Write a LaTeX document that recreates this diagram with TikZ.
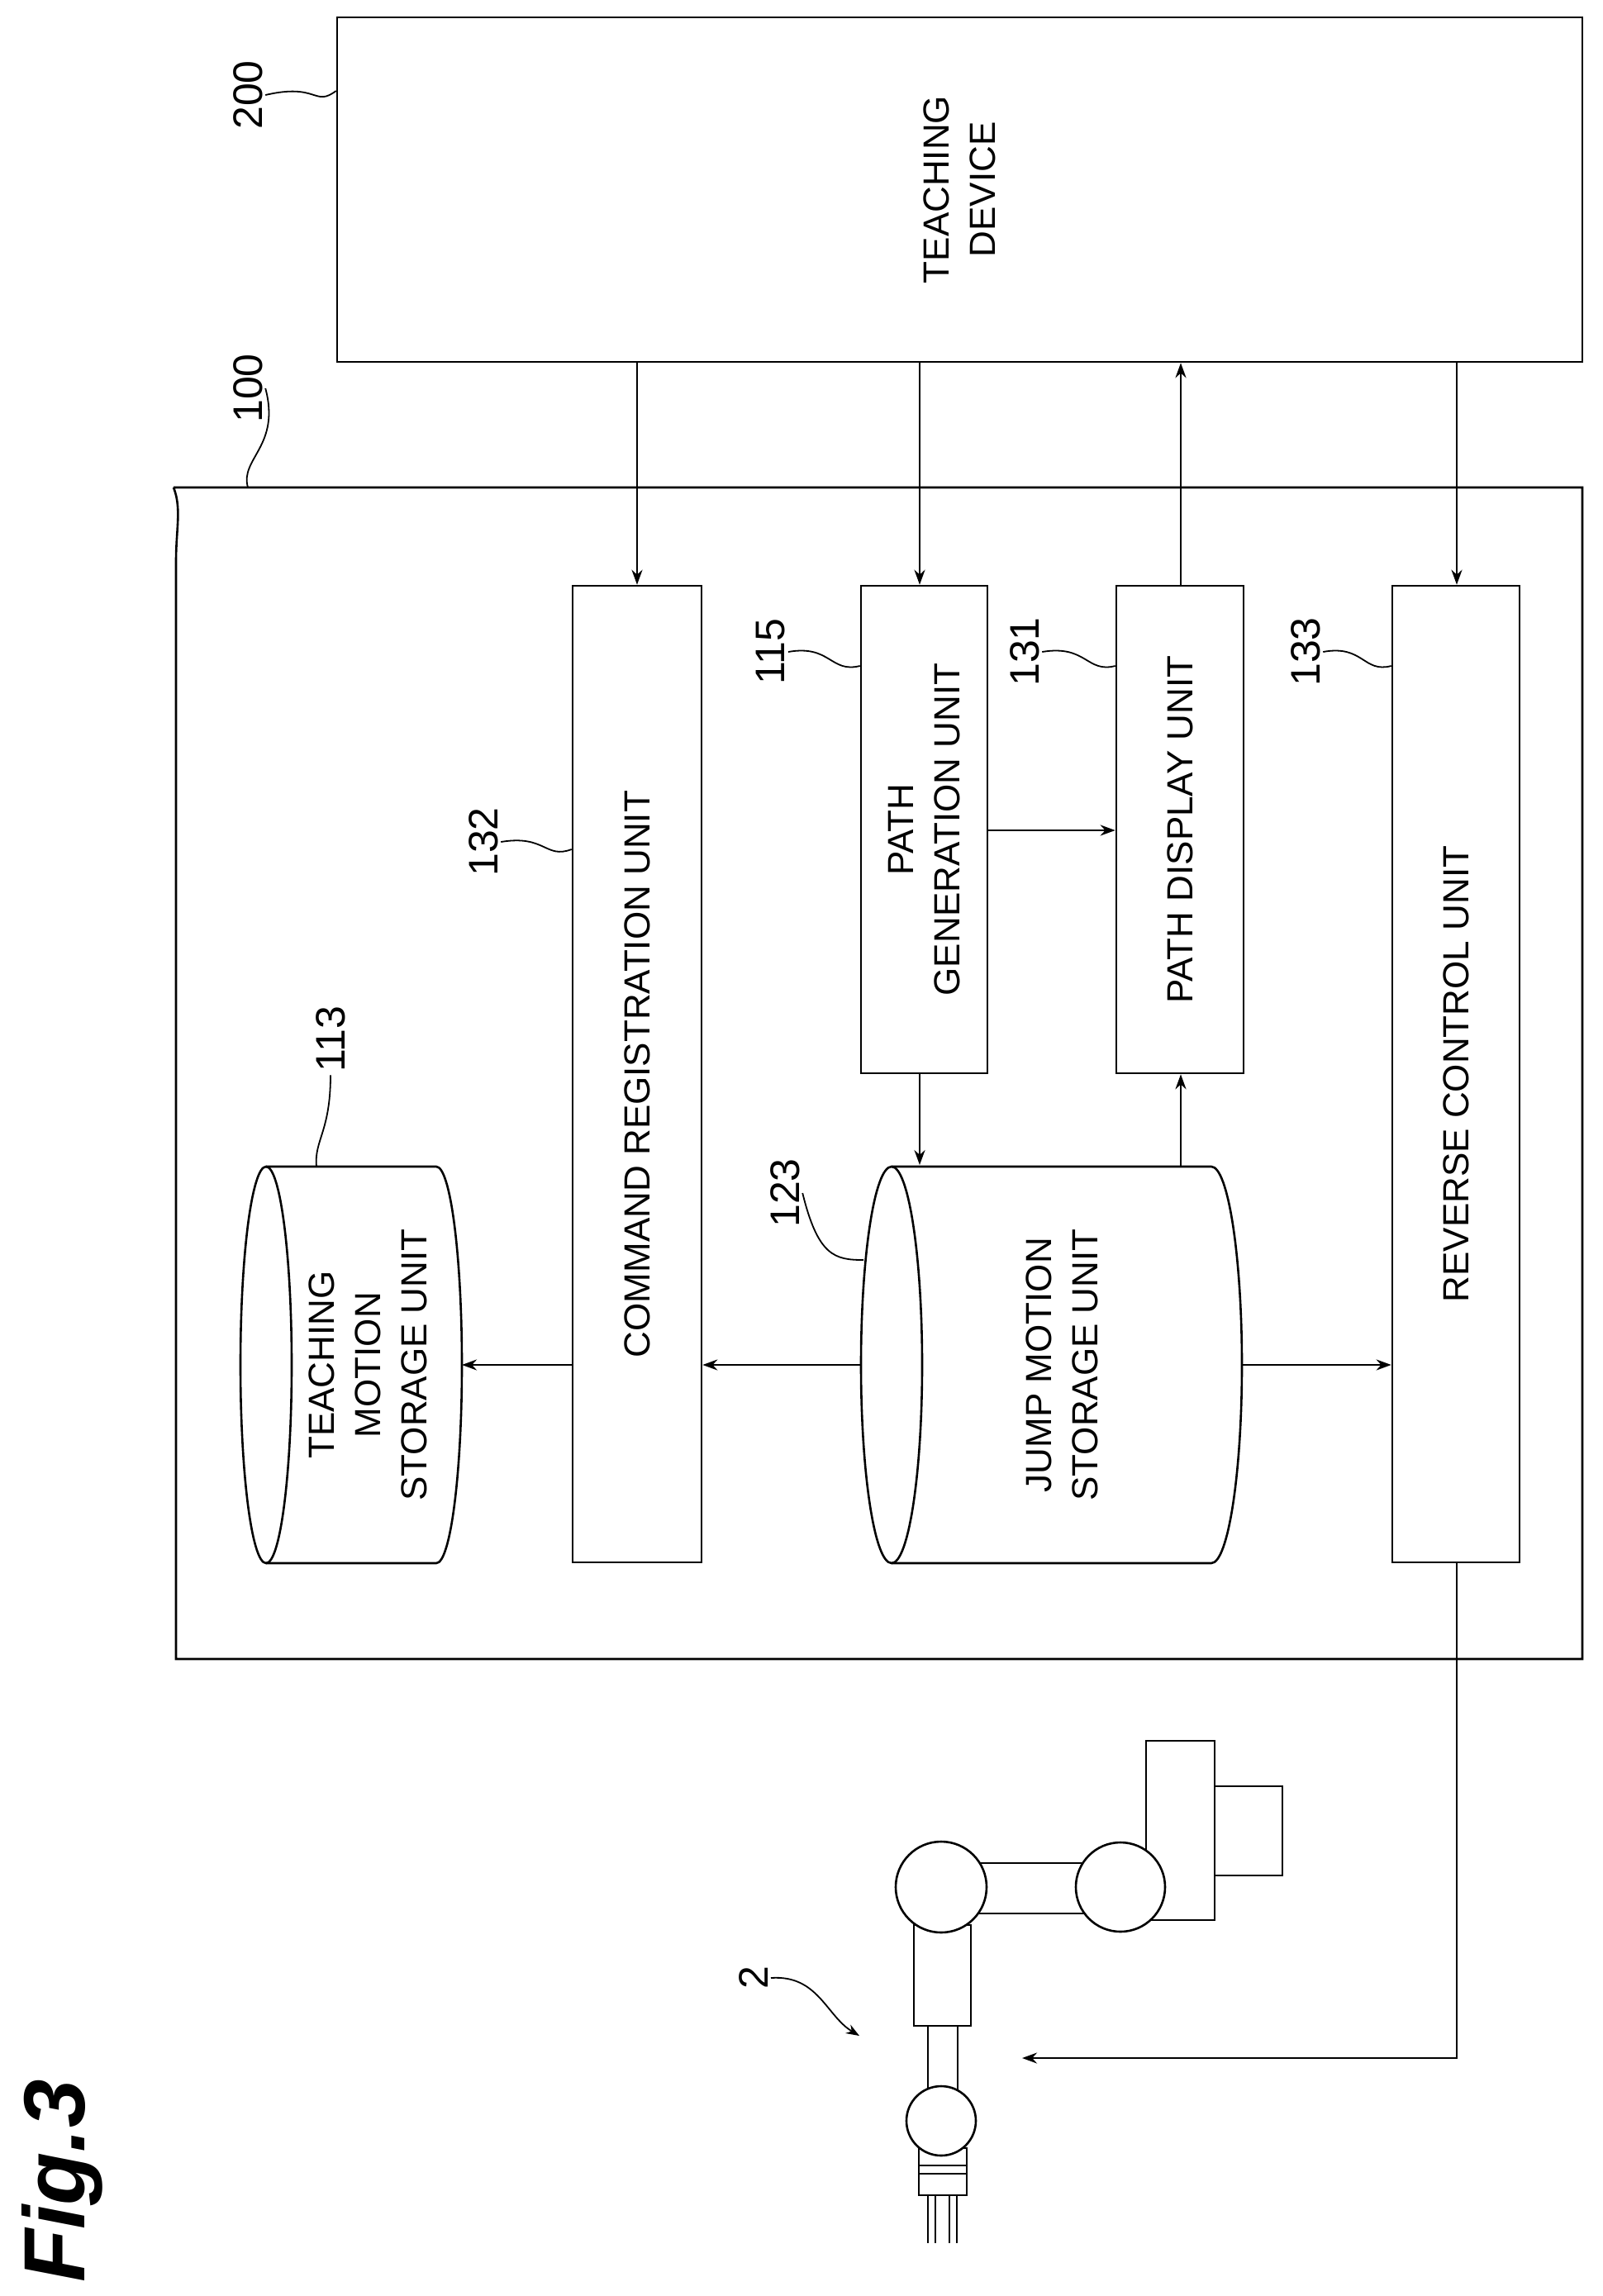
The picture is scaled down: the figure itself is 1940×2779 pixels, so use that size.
\documentclass[tikz,border=0pt]{standalone}
\usepackage{fontspec}
\setmainfont{Liberation Sans}
\usetikzlibrary{arrows.meta}
\begin{document}
\begin{tikzpicture}[x=1pt,y=-1pt,
  ln/.style={line width=2.6pt},
  arr/.style={ln,-{Stealth[length=18pt,width=13pt]}},
  box/.style={ln,draw,rectangle,inner sep=0pt},
  txt/.style={rotate=90,align=center,font=\fontsize{44}{56}\selectfont},
  lbl/.style={rotate=90,font=\fontsize{50}{56}\selectfont},
  lead/.style={line width=1.8pt}]
\useasboundingbox (0,0) rectangle (1940,2779);
% outer boxes
\node[box,minimum width=1507pt,minimum height=417pt] (td) at (1161.5,229.5) {};
\node[txt] at (td.center) {TEACHING\\DEVICE};
\draw[ln] (210,590) -- (1915,590) -- (1915,2008) -- (213,2008) -- (213,680)
  .. controls (213,640) and (220,615) .. (210,590);
\coordinate (c100) at (300,590);
% unit boxes
\node[box,minimum width=156pt,minimum height=1182pt] (cr) at (771,1300) {};
\node[txt] at (cr.center) {COMMAND REGISTRATION UNIT};
\node[box,minimum width=153pt,minimum height=590pt] (pg) at (1118.5,1004) {};
\node[txt] at (pg.center) {PATH\\GENERATION UNIT};
\node[box,minimum width=154pt,minimum height=590pt] (pd) at (1428,1004) {};
\node[txt] at (pd.center) {PATH DISPLAY UNIT};
\node[box,minimum width=154pt,minimum height=1182pt] (rc) at (1762,1300) {};
\node[txt] at (rc.center) {REVERSE CONTROL UNIT};
% cylinders
\draw[ln] (322,1652) ellipse [x radius=31, y radius=240];
\draw[ln] (322,1412) -- (528,1412) .. controls (545,1412) and (559,1519) .. (559,1652)
  .. controls (559,1785) and (545,1892) .. (528,1892) -- (322,1892);
\node[txt] (tm) at (445,1652) {TEACHING\\MOTION\\STORAGE UNIT};
\draw[ln] (1079,1652) ellipse [x radius=37, y radius=240];
\draw[ln] (1079,1412) -- (1466,1412) .. controls (1486,1412) and (1503,1519) .. (1503,1652)
  .. controls (1503,1785) and (1486,1892) .. (1466,1892) -- (1079,1892);
\node[txt] (jm) at (1285,1652) {JUMP MOTION\\STORAGE UNIT};
\coordinate (tmr) at (559,1652);
\coordinate (jml) at (1042,1652);
\coordinate (jmr) at (1503,1652);
\coordinate (jmt1) at (1113,1410);
\coordinate (jmt2) at (1429,1412);
% arrows
\draw[arr] (td.south -| cr) -- (cr.north);
\draw[arr] (td.south -| 1113,0) -- (pg.north -| 1113,0);
\draw[arr] (pd.north -| 1429,0) -- (td.south -| 1429,0);
\draw[arr] (td.south -| 1763,0) -- (rc.north -| 1763,0);
\draw[arr] (pg.south -| 1113,0) -- (jmt1);
\draw[arr] (jmt2) -- (pd.south -| 1429,0);
\draw[arr] (pg.east |- 0,1005) -- (pd.west |- 0,1005);
\draw[arr] (jml) -- (cr.east |- jml);
\draw[arr] (cr.west |- jml) -- (tmr);
\draw[arr] (jmr) -- (rc.west |- jmr);
\coordinate (rb) at (1763,2491);
\coordinate (rob) at (1237,2491);
\draw[arr] (rc.south -| 1763,0) -- (rb) -- (rob);
% reference labels
\node[lbl] (l200) at (300,115) {200};
\draw[lead] (l200.south) .. controls (385,100) and (380,130) .. (td.north west |- 0,110);
\node[lbl] (l100) at (300,470) {100};
\draw[lead] (l100.south) .. controls (340,540) and (290,555) .. (c100);
\node[lbl] (l132) at (585,1019) {132};
\draw[lead] (l132.south) .. controls (660,1010) and (660,1040) .. (cr.west |- 0,1028);
\node[lbl] (l115) at (933,789) {115};
\draw[lead] (l115.south) .. controls (1005,780) and (1005,815) .. (pg.west |- 0,806);
\node[lbl] (l131) at (1240,789) {131};
\draw[lead] (l131.south) .. controls (1315,780) and (1315,815) .. (pd.west |- 0,806);
\node[lbl] (l133) at (1580,789) {133};
\draw[lead] (l133.south) .. controls (1650,780) and (1650,815) .. (rc.west |- 0,806);
\node[lbl] (l113) at (400,1258) {113};
\draw[lead] (l113.west) .. controls (400,1370) and (380,1380) .. (383,1412);
\node[lbl] (l123) at (950,1444) {123};
\draw[lead] (l123.south) .. controls (990,1520) and (1010,1525) .. (1045,1525);
% robot
\draw[ln] (1387,2107) rectangle (1470,2324);
\draw[ln] (1470,2162) rectangle (1552,2270);
\draw[ln] (1185,2255) rectangle (1311,2316);
\draw[ln] (1106,2330) rectangle (1175,2452);
\draw[ln] (1123,2452) rectangle (1159,2529);
\draw[ln,fill=white] (1356,2284) circle (54);
\draw[ln,fill=white] (1139,2284) circle (55);
\draw[ln] (1112,2600) rectangle (1170,2657);
\draw[ln] (1112,2621) -- (1170,2621) (1112,2631) -- (1170,2631);
\draw[ln,fill=white] (1139,2567) circle (42);
\draw[ln] (1123,2657) -- (1123,2715) (1132,2657) -- (1132,2715)
  (1149,2657) -- (1149,2715) (1158,2657) -- (1158,2715);
\node[lbl] (l2) at (912,2394) {2};
\coordinate (r2) at (1040,2464);
\draw[lead,-{Stealth[length=16pt,width=12pt]}] (l2.south) .. controls (990,2390) and (1000,2440) .. (r2);
\node[rotate=90,font=\fontsize{105}{110}\selectfont\bfseries\itshape] (fig) at (75,2640) {Fig.3};
\end{tikzpicture}
\end{document}
